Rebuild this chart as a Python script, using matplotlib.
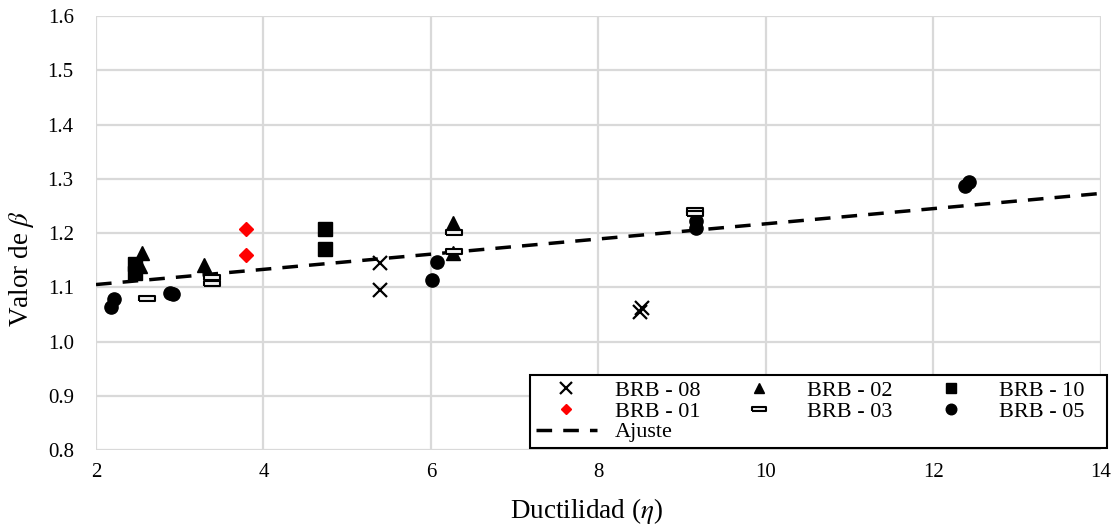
import matplotlib
matplotlib.use("Agg")
import matplotlib.pyplot as plt
import numpy as np

plt.rcParams['font.family'] = ['Liberation Serif', 'DejaVu Serif']
plt.rcParams['mathtext.fontset'] = 'stix'

# Data (ductility, beta)
brb08_x = [5.39, 5.39, 8.50, 8.52]
brb08_y = [1.145, 1.095, 1.055, 1.062]
brb02_x = [2.55, 2.52, 3.29, 6.26, 6.26]
brb02_y = [1.163, 1.140, 1.141, 1.218, 1.163]
brb10_x = [2.47, 2.47, 4.73, 4.73]
brb10_y = [1.143, 1.127, 1.207, 1.170]
brb01_x = [3.79, 3.79]
brb01_y = [1.207, 1.160]
brb03_x = [2.61, 3.39, 3.39, 6.27, 6.27, 9.15, 9.15]
brb03_y = [1.081, 1.119, 1.108, 1.202, 1.167, 1.242, 1.236]
brb05_x = [2.18, 2.21, 2.88, 2.92, 6.01, 6.07, 9.16, 9.16, 12.38, 12.42]
brb05_y = [1.064, 1.079, 1.089, 1.087, 1.113, 1.146, 1.210, 1.223, 1.286, 1.294]
ajuste_slope = 0.014
ajuste_intercept = 1.077

fig = plt.figure(figsize=(11.2, 5.27), dpi=100)
ax = fig.add_axes([0.0857, 0.1461, 0.8973, 0.8235])

dash_marker = [(-1, -0.3), (1, -0.3), (1, 0.3), (-1, 0.3), (-1, -0.3)]

h08, = ax.plot(brb08_x, brb08_y, ls='none', marker='x', color='black', ms=10.5, mew=1.6, label='BRB - 08', zorder=3)
h02, = ax.plot(brb02_x, brb02_y, ls='none', marker='^', color='black', ms=9.5, label='BRB - 02', zorder=3)
h10, = ax.plot(brb10_x, brb10_y, ls='none', marker='s', color='black', ms=9.5, label='BRB - 10   ', zorder=3)
h01, = ax.plot(brb01_x, brb01_y, ls='none', marker='D', color='#ff0000', ms=6.8, label='BRB - 01', zorder=3)
h03, = ax.plot(brb03_x, brb03_y, ls='none', marker=dash_marker, mfc='#f0f0f0', mec='black', mew=1.5, ms=12, label='BRB - 03', zorder=4)
h05, = ax.plot(brb05_x, brb05_y, ls='none', marker='o', color='black', ms=9.5, label='BRB - 05   ', zorder=3)

xf = np.array([2, 14])
hfit, = ax.plot(xf, ajuste_intercept + ajuste_slope * xf, ls=(0, (4.5, 3.2)), color='black', lw=2.5, label='Ajuste', zorder=2)

ax.set_xlim(2, 14)
ax.set_ylim(0.8, 1.6)
ax.set_xticks(np.arange(2, 15, 2))
ax.set_yticks(np.arange(0.8, 1.61, 0.1))
ax.set_yticklabels([f"{v:.1f}" for v in np.arange(0.8, 1.61, 0.1)])
ax.grid(True, color='#d9d9d9', lw=1.6)
ax.set_axisbelow(True)
for s in ax.spines.values():
    s.set_visible(False)
ax.tick_params(length=0, labelsize=15)
ax.tick_params(axis='y', pad=16)
ax.tick_params(axis='x', pad=9)

ax.set_xlabel(r'Ductilidad ($\eta$)', fontsize=19.5)
ax.set_ylabel(r'Valor de $\beta$', fontsize=19.5)
ax.xaxis.set_label_coords(0.4876, -0.14)
ax.yaxis.set_label_coords(-0.0746, 0.417)
ax.xaxis.label.set_va('center')
ax.yaxis.label.set_va('center')

leg = ax.legend(handles=[h08, h01, hfit, h02, h03, h10, h05], ncol=3,
                loc='lower right', bbox_to_anchor=(1.006, 0.005), fontsize=16,
                frameon=True, fancybox=False, edgecolor='black', framealpha=1,
                handlelength=2.75, handletextpad=0.8, columnspacing=1.25,
                borderpad=0.25, labelspacing=0.0, borderaxespad=0, markerscale=0.8)
leg.get_frame().set_linewidth(1.5)

fig.savefig('out.png', dpi=100)
